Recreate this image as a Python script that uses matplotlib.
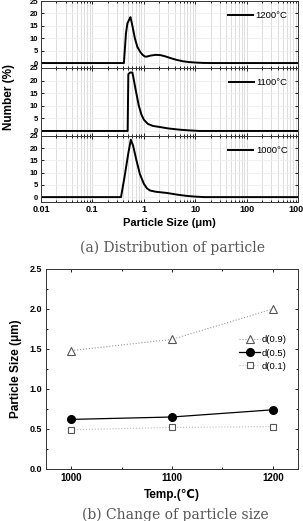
import numpy as np
import matplotlib
matplotlib.use('Agg')
import matplotlib.pyplot as plt
from matplotlib.ticker import LogLocator, NullFormatter, FixedLocator, MultipleLocator

plt.rcParams['font.family'] = ['Liberation Sans', 'DejaVu Sans']

# (a) particle size distribution
size_1200 = [0.01, 0.41, 0.45, 0.48, 0.52, 0.55, 0.6, 0.67, 0.75, 0.85, 0.95, 1.05, 1.15, 1.35, 1.7, 2.1, 2.6, 3.3, 4.3, 5.8, 7.5, 10, 14, 20, 1000]
num_1200 = [0, 0, 12, 16, 17.5, 18.5, 15, 10, 6.5, 4.5, 3.3, 2.6, 2.6, 3.0, 3.3, 3.2, 2.7, 2.0, 1.3, 0.7, 0.4, 0.2, 0.05, 0, 0]
size_1100 = [0.01, 0.485, 0.5, 0.54, 0.6, 0.63, 0.7, 0.8, 0.9, 1.0, 1.2, 1.5, 2.0, 3.0, 5.0, 8.0, 12, 1000]
num_1100 = [0, 0, 22.5, 23.2, 23.2, 21, 16, 10, 6.5, 4.5, 2.8, 2.0, 1.6, 1.0, 0.5, 0.2, 0, 0]
size_1000 = [0.01, 0.36, 0.42, 0.5, 0.56, 0.62, 0.72, 0.84, 1.0, 1.15, 1.32, 1.7, 2.8, 4.5, 6.8, 10, 15, 1000]
num_1000 = [0, 0, 8, 18, 23.5, 21, 15, 9.4, 5.5, 3.6, 2.7, 2.2, 1.7, 1.0, 0.5, 0.2, 0, 0]
labels_dist = ['1200\u00b0C', '1100\u00b0C', '1000\u00b0C']

# (b) change of particle size with temperature
temps = [1000, 1100, 1200]
d09 = [1.48, 1.62, 2.00]
d05 = [0.62, 0.65, 0.74]
d01 = [0.49, 0.52, 0.53]

fig = plt.figure(figsize=(3.03, 5.21), dpi=100)

H = 521.0
W = 303.0
panel_px = [(1, 68), (68, 136), (136, 202)]
series = [(size_1200, num_1200), (size_1100, num_1100), (size_1000, num_1000)]
serif = ['DejaVu Serif', 'Liberation Serif']

for i, ((top, bot), (xs, ys)) in enumerate(zip(panel_px, series)):
    ax = fig.add_axes([41 / W, 1 - bot / H, (298 - 41) / W, (bot - top) / H])
    ax.plot(xs, ys, color='black', lw=1.4, label=labels_dist[i])
    ax.set_xscale('log')
    ax.set_xlim(0.01, 1000)
    ax.set_ylim(-2, 25)
    ax.yaxis.set_major_locator(FixedLocator([0, 5, 10, 15, 20, 25]))
    ax.xaxis.set_major_locator(LogLocator(base=10, numticks=10))
    ax.xaxis.set_minor_locator(LogLocator(base=10, subs=np.arange(2, 10), numticks=20))
    ax.xaxis.set_minor_formatter(NullFormatter())
    ax.grid(True, which='both', axis='x', color='#d8d8d8', lw=0.6)
    ax.grid(True, which='major', axis='y', color='#eeeeee', lw=0.6)
    ax.tick_params(which='both', direction='in', top=True, right=True, length=2, width=0.6)
    ax.tick_params(which='minor', length=1.2)
    ax.tick_params(axis='both', labelsize=5.5, pad=2)
    for lab in ax.get_yticklabels():
        lab.set_fontweight('bold')
    if i < 2:
        ax.set_xticklabels([])
    else:
        ax.set_xticks([0.01, 0.1, 1, 10, 100, 1000])
        ax.set_xticklabels(['0.01', '0.1', '1', '10', '100', '1000'], fontsize=6.5, fontweight='bold')
        ax.set_xlabel('Particle Size (\u03bcm)', fontsize=8, fontweight='bold', labelpad=3)
    for s in ax.spines.values():
        s.set_linewidth(0.7)
        s.set_color('#333333')
    ax.legend(loc='upper right', frameon=False, fontsize=6.8, handlelength=2.6,
              borderaxespad=0.7, handletextpad=0.3)

fig.text(9 / W, 1 - 97 / H, 'Number (%)', rotation=90, fontsize=8.5, fontweight='bold',
         ha='center', va='center')
fig.text(172 / W, 1 - 248 / H, '(a) Distribution of particle', family=serif,
         fontsize=10, color='#555555', ha='center', va='center')

# bottom chart
ax2 = fig.add_axes([46 / W, 1 - 469 / H, (298 - 46) / W, 200 / H])
ax2.plot(temps, d09, linestyle=':', color='#999999', lw=0.8, marker='^', markersize=6,
         markerfacecolor='white', markeredgecolor='#555555', markeredgewidth=0.8, label='d(0.9)')
ax2.plot(temps, d05, linestyle='-', color='black', lw=0.9, marker='o', markersize=5.5,
         markerfacecolor='black', markeredgecolor='black', label='d(0.5)')
ax2.plot(temps, d01, linestyle=':', color='#bbbbbb', lw=0.8, marker='s', markersize=5,
         markerfacecolor='white', markeredgecolor='#555555', markeredgewidth=0.8, label='d(0.1)')
ax2.set_xlim(975, 1225)
ax2.set_ylim(0, 2.5)
ax2.set_xticks(temps)
ax2.set_xticklabels([str(t) for t in temps], fontsize=7, fontweight='bold')
ax2.yaxis.set_minor_locator(MultipleLocator(0.25))
ax2.xaxis.set_minor_locator(MultipleLocator(50))
ax2.set_yticks([0, 0.5, 1.0, 1.5, 2.0, 2.5])
ax2.set_yticklabels(['0.0', '0.5', '1.0', '1.5', '2.0', '2.5'], fontsize=6.5, fontweight='bold')
ax2.tick_params(which='both', direction='in', top=True, right=True, length=2.5, width=0.6, pad=3)
ax2.tick_params(which='minor', length=1.5)
for s in ax2.spines.values():
    s.set_linewidth(0.7)
    s.set_color('#333333')
ax2.set_xlabel('Temp.(\u2103)', fontsize=8.5, fontweight='bold', labelpad=4)
ax2.set_ylabel('Particle Size (\u03bcm)', fontsize=8.5, fontweight='bold', labelpad=5)
ax2.legend(loc='center right', bbox_to_anchor=(0.99, 0.58), frameon=False, fontsize=6.8,
           handlelength=2.2, handletextpad=0.2, labelspacing=0.45)

fig.text(175 / W, 1 - 515 / H, '(b) Change of particle size', family=serif,
         fontsize=10, color='#555555', ha='center', va='center')

fig.savefig('out.png', dpi=100)
